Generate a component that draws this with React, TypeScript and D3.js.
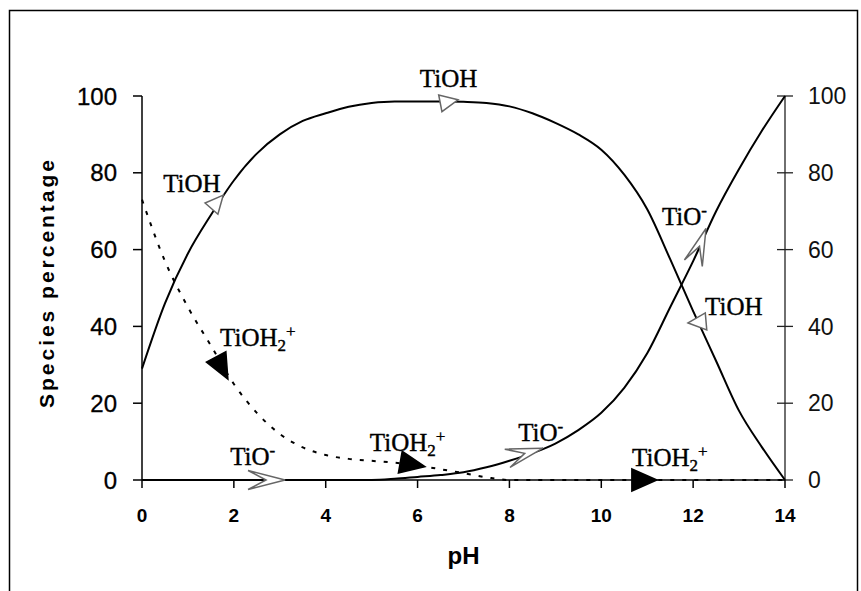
import React from "react";
import * as d3 from "d3";

// pH grid
const PH = [0, 0.5, 1, 1.5, 2, 2.5, 3, 3.5, 4, 4.5, 5, 5.5, 6, 6.5, 7, 7.5, 8, 8.5, 9, 9.5, 10, 10.5, 11, 11.5, 12, 12.5, 13, 13.5, 14];
// Species percentages
const TIOH = [29, 46, 59, 69, 78, 85, 90, 93.5, 95.5, 97.2, 98.2, 98.6, 98.6, 98.6, 98.5, 98.2, 97.3, 95.5, 93, 90, 86, 79.5, 70.5, 57.5, 44, 31, 18, 8.5, 0];
const TIO = [0, 0, 0, 0, 0, 0, 0, 0, 0, 0, 0, 0.3, 0.8, 1.3, 2, 3.3, 5, 7, 9.5, 13, 17.5, 24, 33, 45, 57, 70, 81, 91, 100];
const TIOH2 = [73, 57, 45, 35, 25, 17.5, 12, 8.5, 6.5, 5.5, 5, 4.5, 3.8, 2.8, 1.8, 0.7, 0, 0, 0, 0, 0, 0, 0, 0, 0, 0, 0, 0, 0];

const X_TICKS = [0, 2, 4, 6, 8, 10, 12, 14];
const Y_TICKS = [0, 20, 40, 60, 80, 100];

// annotation labels (data coords of text start / baseline)
const LABELS = [
  { text: "TiOH", pH: 0.46, v: 75 },
  { text: "TiOH", sub: "2", sup: "+", pH: 1.7, v: 34.9 },
  { text: "TiO", sup: "-", pH: 1.92, v: 3.9 },
  { text: "TiOH", sub: "2", sup: "+", pH: 4.96, v: 7.55 },
  { text: "TiO", sup: "-", pH: 8.19, v: 10.2 },
  { text: "TiOH", sub: "2", sup: "+", pH: 10.67, v: 3.65 },
  { text: "TiOH", pH: 6.05, v: 102.3 },
  { text: "TiO", sup: "-", pH: 11.32, v: 66.4 },
  { text: "TiOH", pH: 12.26, v: 43 },
];

// arrow markers (tip in data coords)
const MARKERS = [
  { kind: "open", pH: 1.77, v: 74.2, angle: -49 },
  { kind: "solid", pH: 1.87, v: 26.3, angle: 62 },
  { kind: "open", pH: 6.88, v: 99, angle: -11 },
  { kind: "chevron", pH: 3.115, v: 0, angle: 0 },
  { kind: "solid", pH: 6.16, v: 3.5, angle: 10 },
  { kind: "chevron", pH: 8.73, v: 8.3, angle: -16 },
  { kind: "solid", pH: 11.21, v: 0, angle: 0 },
  { kind: "chevron", pH: 12.28, v: 65.5, angle: -70 },
  { kind: "open", pH: 11.89, v: 40.9, angle: 175 },
];

const W = 861;
const H = 591;
const left = 142;
const right = 785;
const top = 96;
const bottom = 480;

export default function App() {
  const x = d3.scaleLinear().domain([0, 14]).range([left, right]);
  const y = d3.scaleLinear().domain([0, 100]).range([bottom, top]);

  const mk = (vals: number[]) =>
    d3
      .line<number>()
      .x((_, i) => x(PH[i]))
      .y((d) => y(d))
      .curve(d3.curveMonotoneX)(vals) as string;

  const markerPath = (kind: string) => {
    if (kind === "open") return "M0,0 L-18,-8.5 L-18,8.5 Z";
    if (kind === "solid") return "M0,0 L-25,-11 L-25,11 Z";
    return "M0,0 L-37,-9.5 L-19,0 L-37,9.5 Z";
  };

  const serif = "'Liberation Serif', 'Times New Roman', serif";
  const sans = "'Liberation Sans', Arial, sans-serif";

  return (
    <svg
      width={W}
      height={H}
      style={{ position: "absolute", left: 0, top: 0, display: "block", background: "#fff" }}
    >
      <rect x={0} y={0} width={W} height={H} fill="#fff" />
      <rect x={9.5} y={10.5} width={848} height={620} fill="none" stroke="#000" strokeWidth={1.5} />

      {/* axes */}
      <line x1={left} x2={left} y1={top} y2={bottom} stroke="#000" strokeWidth={1.5} />
      <line x1={right} x2={right} y1={top} y2={bottom} stroke="#222" strokeWidth={1.3} />
      <line x1={left} x2={right} y1={bottom} y2={bottom} stroke="#000" strokeWidth={1.5} />

      {Y_TICKS.map((t) => (
        <g key={"yl" + t}>
          <line x1={left - 9} x2={left} y1={y(t)} y2={y(t)} stroke="#000" strokeWidth={1.5} />
          <text
            x={117}
            y={y(t)}
            dy="0.36em"
            textAnchor="end"
            fontFamily={sans}
            fontSize={24}
            fill="#000"
            stroke="#000"
            strokeWidth={0.3}
          >
            {t}
          </text>
        </g>
      ))}
      {Y_TICKS.map((t) => (
        <g key={"yr" + t}>
          <line x1={right - 8} x2={right + 8} y1={y(t)} y2={y(t)} stroke="#222" strokeWidth={1.3} />
          <text
            x={808}
            y={y(t)}
            dy="0.36em"
            textAnchor="start"
            fontFamily={sans}
            fontSize={23}
            fill="#111"
          >
            {t}
          </text>
        </g>
      ))}
      {X_TICKS.map((t) => (
        <g key={"x" + t}>
          <line x1={x(t)} x2={x(t)} y1={bottom} y2={bottom + 8} stroke="#000" strokeWidth={1.5} />
          <text
            x={x(t)}
            y={522}
            textAnchor="middle"
            fontFamily={sans}
            fontWeight="bold"
            fontSize={19}
            fill="#000"
          >
            {t}
          </text>
        </g>
      ))}

      <text
        x={(left + right) / 2}
        y={564}
        textAnchor="middle"
        fontFamily={sans}
        fontWeight="bold"
        fontSize={24}
        fill="#000"
      >
        pH
      </text>
      <text
        transform={`translate(54, 284) rotate(-90)`}
        textAnchor="middle"
        fontFamily={sans}
        fontWeight="bold"
        fontSize={21}
        textLength={248}
        lengthAdjust="spacing"
        fill="#000"
      >
        Species percentage
      </text>

      {/* curves */}
      <path d={mk(TIOH2)} fill="none" stroke="#000" strokeWidth={2} strokeDasharray="4,8" />
      <path d={mk(TIOH)} fill="none" stroke="#000" strokeWidth={2} />
      <path d={mk(TIO)} fill="none" stroke="#000" strokeWidth={2} />

      {/* markers */}
      {MARKERS.map((m, i) => (
        <path
          key={"m" + i}
          d={markerPath(m.kind)}
          transform={`translate(${x(m.pH)},${y(m.v)}) rotate(${m.angle})`}
          fill={m.kind === "solid" ? "#000" : "#fff"}
          stroke={m.kind === "solid" ? "#000" : "#666"}
          strokeWidth={1.5}
          strokeLinejoin="miter"
        />
      ))}

      {/* labels */}
      {LABELS.map((l, i) => (
        <text
          key={"l" + i}
          x={x(l.pH)}
          y={y(l.v)}
          fontFamily={serif}
          fontSize={25}
          fill="#000"
          stroke="#000"
          strokeWidth={0.4}
        >
          {l.text}
          {l.sub ? (
            <tspan fontSize={17} dy={5}>
              {l.sub}
            </tspan>
          ) : null}
          {l.sup ? (
            <tspan fontSize={17} dy={l.sub ? -14 : -9}>
              {l.sup}
            </tspan>
          ) : null}
        </text>
      ))}
    </svg>
  );
}
